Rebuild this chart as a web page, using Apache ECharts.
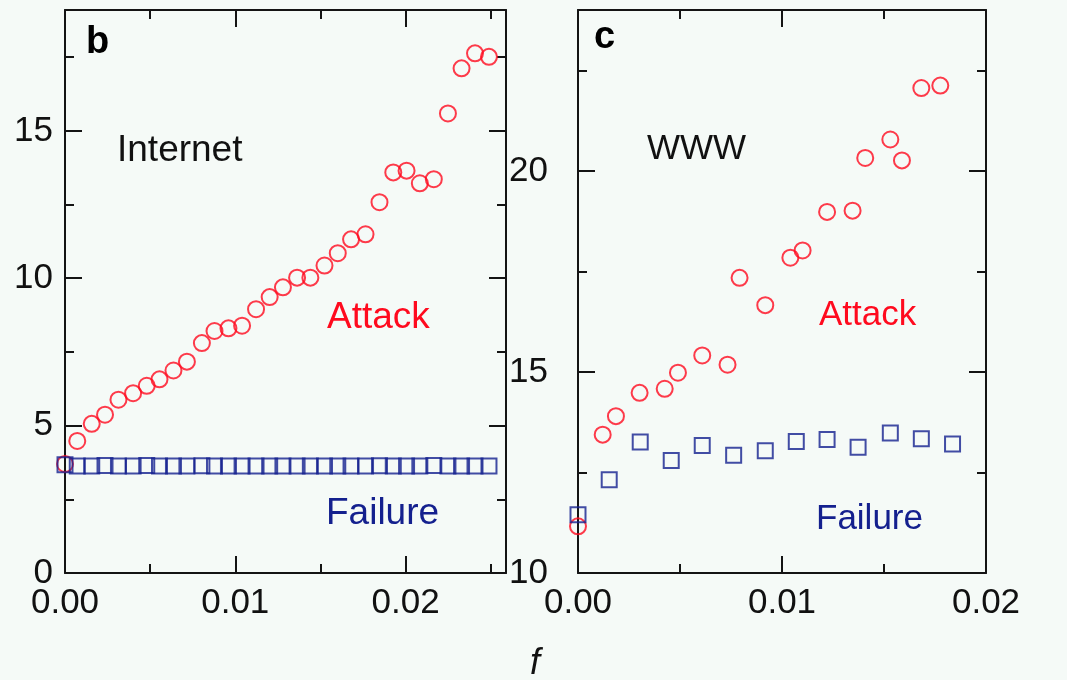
<!DOCTYPE html>
<html>
<head>
<meta charset="utf-8">
<script src="https://cdn.jsdelivr.net/npm/echarts@6/dist/echarts.min.js"></script>
<style>
html,body{margin:0;padding:0;background:#f5faf7;}
#chart{width:1067px;height:680px;}
</style>
</head>
<body>
<div id="chart"></div>
<script>
// ---- Panel b: Internet ----
const inetF = [0, 0.00072, 0.00157, 0.00235, 0.00314, 0.0040, 0.0048, 0.00555, 0.00637, 0.00716, 0.00804, 0.00878, 0.0096, 0.0104, 0.01122, 0.01202, 0.0128, 0.01363, 0.01441, 0.01524, 0.01602, 0.0168, 0.01765, 0.01847, 0.01928, 0.02006, 0.02084, 0.02166, 0.02249, 0.02329, 0.02408, 0.0249];
const inetAttack = [3.7, 4.48, 5.06, 5.37, 5.88, 6.10, 6.35, 6.57, 6.87, 7.17, 7.80, 8.21, 8.30, 8.39, 8.95, 9.36, 9.69, 10.02, 10.02, 10.43, 10.85, 11.32, 11.49, 12.58, 13.59, 13.65, 13.22, 13.36, 15.59, 17.12, 17.63, 17.51];
const inetFailure = [3.67, 3.63, 3.63, 3.65, 3.63, 3.63, 3.65, 3.63, 3.63, 3.63, 3.64, 3.63, 3.63, 3.63, 3.63, 3.63, 3.63, 3.63, 3.63, 3.63, 3.63, 3.63, 3.63, 3.64, 3.63, 3.63, 3.63, 3.65, 3.63, 3.63, 3.63, 3.63];
// ---- Panel c: WWW ----
const wwwAttackF = [0, 0.00121, 0.00186, 0.00302, 0.00425, 0.0049, 0.00609, 0.00733, 0.00792, 0.00918, 0.01041, 0.01101, 0.01221, 0.01346, 0.01408, 0.01531, 0.01588, 0.01683, 0.01776];
const wwwAttack = [11.16, 13.44, 13.90, 14.48, 14.58, 14.98, 15.41, 15.18, 17.34, 16.66, 17.84, 18.02, 18.98, 19.01, 20.32, 20.78, 20.26, 22.06, 22.12];
const wwwFailureF = [0, 0.00153, 0.00305, 0.00457, 0.00609, 0.00763, 0.00918, 0.0107, 0.01221, 0.01373, 0.01531, 0.01683, 0.01836];
const wwwFailure = [11.45, 12.32, 13.26, 12.80, 13.17, 12.93, 13.04, 13.27, 13.32, 13.13, 13.48, 13.34, 13.21];
// ---- Axis ranges / ticks ----
const inetXRange = [0, 0.0259];
const inetYRange = [0, 19.1];
const wwwXRange = [0, 0.02];
const wwwYRange = [10, 24];
const xMajor = 0.01, xMinor = 0.005;
const yMajor = 5, yMinor = 2.5;
const xLabelStep = 0.01;
const yLabelStep = 5;

const RED = '#ff0a1e';
const BLUE = '#14208e';
const AXIS = '#141414';
const FONT = '"Liberation Sans", Arial, Helvetica, sans-serif';

function isMult(v, step) {
  const r = v / step;
  return Math.abs(r - Math.round(r)) < 1e-6;
}

function makeAxes(kind, gridIndex, range, majorInt, minorInt, labelStep, labelDigits, labelMargin) {
  const posA = kind === 'x' ? 'bottom' : 'left';
  const posB = kind === 'x' ? 'top' : 'right';
  const base = {
    type: 'value', gridIndex: gridIndex, min: range[0], max: range[1],
    splitLine: {show: false}, minorTick: {show: false}, minorSplitLine: {show: false}
  };
  const major = (pos, labels) => Object.assign({}, base, {
    position: pos, interval: majorInt,
    axisLine: {show: true, onZero: false, lineStyle: {color: AXIS, width: 2}},
    axisTick: {show: true, inside: true, length: 17, lineStyle: {color: AXIS, width: 2}},
    axisLabel: {
      show: labels, margin: labelMargin, color: '#111', fontSize: 35, fontFamily: FONT,
      showMaxLabel: true,
      formatter: v => isMult(v, labelStep) ? v.toFixed(labelDigits) : ''
    }
  });
  const minor = (pos) => Object.assign({}, base, {
    position: pos, interval: minorInt,
    axisLine: {show: false, onZero: false},
    axisTick: {show: true, inside: true, length: 9, lineStyle: {color: AXIS, width: 2}},
    axisLabel: {show: false}
  });
  return [major(posA, true), minor(posA), major(posB, false), minor(posB)];
}

const xAxes = [].concat(
  makeAxes('x', 0, inetXRange, xMajor, xMinor, xLabelStep, 2, 13),
  makeAxes('x', 1, wwwXRange, xMajor, xMinor, xLabelStep, 2, 13)
);
const yAxes = [].concat(
  makeAxes('y', 0, inetYRange, yMajor, yMinor, yLabelStep, 0, 12),
  makeAxes('y', 1, wwwYRange, yMajor, yMinor, yLabelStep, 0, 30)
);

function pairs(xs, ys) { return xs.map((x, i) => [x, ys[i]]); }

function scatter(name, xs, ys, gi, symbol, size, color) {
  return {
    name: name, type: 'scatter', xAxisIndex: gi * 4, yAxisIndex: gi * 4,
    data: pairs(xs, ys), symbol: symbol, symbolSize: size, clip: false,
    itemStyle: {color: 'rgba(0,0,0,0)', borderColor: color, borderWidth: 2},
    emphasis: {disabled: true}, silent: true
  };
}

function txt(s, x, y, size, color, extra) {
  return {
    type: 'text', x: x, y: y, silent: true,
    style: Object.assign({text: s, fill: color, font: size + 'px ' + FONT, textAlign: 'left', textVerticalAlign: 'middle'}, extra || {})
  };
}

const option = {
  backgroundColor: '#f5faf7',
  animation: false,
  grid: [
    {left: 65, top: 10, width: 441, height: 563},
    {left: 578, top: 10, width: 408, height: 563}
  ],
  xAxis: xAxes,
  yAxis: yAxes,
  series: [
    scatter('Internet Attack', inetF, inetAttack, 0, 'circle', 16, RED),
    scatter('Internet Failure', inetF, inetFailure, 0, 'rect', 15, BLUE),
    scatter('WWW Attack', wwwAttackF, wwwAttack, 1, 'circle', 16, RED),
    scatter('WWW Failure', wwwFailureF, wwwFailure, 1, 'rect', 15, BLUE)
  ],
  graphic: [
    txt('b', 86, 43, 38, '#000', {font: 'bold 38px ' + FONT}),
    txt('c', 594, 38, 38, '#000', {font: 'bold 38px ' + FONT}),
    txt('Internet', 117, 151, 37, '#111'),
    txt('WWW', 647, 149, 35, '#111'),
    txt('Attack', 327, 318, 37, RED),
    txt('Failure', 326, 514, 37, BLUE),
    txt('Attack', 819, 315, 35, RED),
    txt('Failure', 816, 519, 35, BLUE),
    txt('f', 530, 664, 36, '#111', {font: 'italic 36px ' + FONT})
  ]
};

const chart = echarts.init(document.getElementById('chart'), null, {renderer: 'canvas'});
chart.setOption(option);
</script>
</body>
</html>
